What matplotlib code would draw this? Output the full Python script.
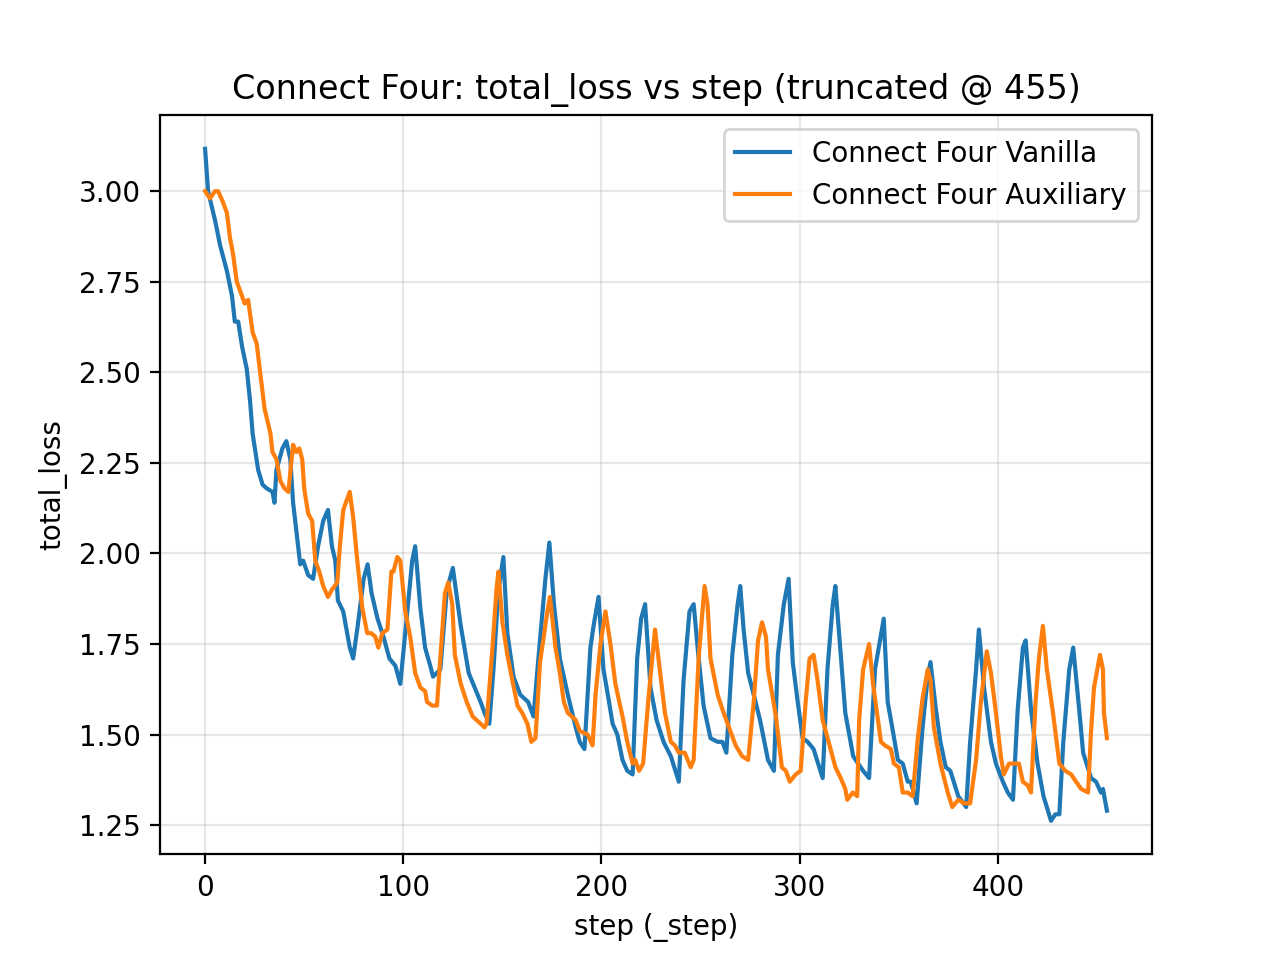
import matplotlib
matplotlib.use("Agg")
import matplotlib.pyplot as plt

# (step, total_loss) readings for each run
vanilla_points = [
    (0, 3.117), (1.5, 3.00), (5, 2.92), (7.6, 2.85), (11, 2.78), (13.6, 2.71), (15, 2.64), (16.7, 2.64),
    (18.7, 2.57), (21, 2.51), (22.7, 2.42), (24, 2.33), (26.8, 2.23), (29, 2.19), (31, 2.18), (34, 2.17),
    (35, 2.14), (36, 2.23), (39, 2.29), (41, 2.31), (43, 2.26), (44.4, 2.14), (48, 1.97), (49.5, 1.98),
    (52, 1.94), (54.5, 1.93), (57, 2.02), (59.6, 2.09), (62, 2.12), (64, 2.02), (65.7, 1.98), (67, 1.87),
    (69.7, 1.84), (73, 1.74), (74.7, 1.71), (77, 1.80), (80, 1.93), (82, 1.97), (84, 1.89), (87, 1.82),
    (90, 1.77), (93, 1.71), (96, 1.69), (98.5, 1.64), (102, 1.84), (104.5, 1.98), (106, 2.02), (108.6, 1.85),
    (111, 1.74), (113.6, 1.69), (115, 1.66), (118.7, 1.68), (122, 1.90), (125, 1.96), (129, 1.80), (133, 1.67),
    (136, 1.63), (139, 1.59), (141, 1.56), (143.4, 1.53), (145.5, 1.68), (148, 1.90), (150.5, 1.99),
    (152.5, 1.78), (155.6, 1.66), (159, 1.61), (163, 1.59), (165.7, 1.55), (168, 1.70), (171.7, 1.93),
    (173.7, 2.03), (176, 1.86), (179, 1.71), (183, 1.61), (187, 1.52), (189, 1.48), (191.4, 1.46),
    (194.4, 1.74), (196, 1.80), (198.5, 1.88), (201, 1.68), (203.5, 1.60), (205.6, 1.53), (208, 1.50),
    (210.6, 1.43), (213, 1.40), (215.7, 1.39), (218, 1.71), (220, 1.82), (222, 1.86), (224.7, 1.63),
    (227.8, 1.54), (231.3, 1.48), (235, 1.44), (239, 1.37), (241.4, 1.65), (244.4, 1.84), (246.5, 1.86),
    (248.5, 1.74), (251.5, 1.58), (255, 1.49), (258.6, 1.48), (261, 1.48), (263, 1.45), (266, 1.72),
    (268.7, 1.86), (270, 1.91), (271.7, 1.79), (274, 1.67), (276.8, 1.61), (280, 1.54), (284, 1.43),
    (287, 1.40), (289, 1.72), (292, 1.86), (294.4, 1.93), (296.5, 1.70), (299, 1.59), (301.5, 1.49),
    (304, 1.48), (307, 1.46), (311.6, 1.38), (314, 1.68), (316.7, 1.86), (318, 1.91), (320.7, 1.72),
    (323, 1.56), (327, 1.44), (332, 1.40), (335, 1.38), (338, 1.68), (342.4, 1.82), (344.4, 1.59),
    (347, 1.51), (349.5, 1.43), (352, 1.42), (354.5, 1.37), (356, 1.37), (359, 1.31), (362, 1.52),
    (364.6, 1.66), (366, 1.70), (368.7, 1.57), (371, 1.48), (373.7, 1.41), (376, 1.40), (380, 1.33),
    (384, 1.30), (386, 1.48), (389, 1.68), (390.4, 1.79), (393, 1.63), (396.5, 1.48), (399, 1.42),
    (402.5, 1.37), (405, 1.34), (407.6, 1.32), (410, 1.57), (412.6, 1.74), (414, 1.76), (416.7, 1.57),
    (420, 1.42), (423, 1.33), (426.8, 1.262), (429, 1.28), (431, 1.28), (433, 1.48), (436, 1.68),
    (438, 1.74), (441, 1.57), (443, 1.45), (447, 1.38), (449.5, 1.37), (452, 1.34), (453, 1.35), (455, 1.29),
]

auxiliary_points = [
    (0, 3.00), (2.5, 2.98), (5, 3.00), (6.6, 3.00), (9, 2.97), (11, 2.94), (12.6, 2.87), (14, 2.83),
    (16, 2.75), (18.7, 2.71), (20, 2.69), (21.7, 2.70), (22.7, 2.66), (24, 2.61), (26, 2.58), (27.8, 2.50),
    (30, 2.40), (33, 2.33), (34, 2.28), (36, 2.26), (38, 2.20), (40, 2.18), (42, 2.17), (44.4, 2.30),
    (46, 2.28), (47.5, 2.29), (49, 2.26), (50, 2.18), (52, 2.11), (54, 2.09), (55.6, 1.98), (57.6, 1.95),
    (59.6, 1.91), (62, 1.88), (64, 1.90), (66.7, 1.92), (68, 2.02), (69.7, 2.12), (71.7, 2.15), (73, 2.17),
    (74.7, 2.10), (76.8, 1.98), (79.3, 1.85), (81.8, 1.78), (83.8, 1.78), (85.9, 1.77), (87.4, 1.74),
    (89.4, 1.78), (92, 1.79), (94, 1.95), (95, 1.95), (97, 1.99), (98.5, 1.98), (101, 1.84), (103.5, 1.77),
    (106, 1.67), (108.6, 1.63), (111, 1.62), (112, 1.59), (114.6, 1.58), (117, 1.58), (119.7, 1.79),
    (121, 1.89), (122.7, 1.92), (124.7, 1.86), (126, 1.72), (129, 1.64), (132, 1.59), (135, 1.55),
    (139, 1.53), (141, 1.52), (142, 1.53), (145, 1.74), (147, 1.90), (148, 1.95), (150, 1.81), (152.5, 1.72),
    (155, 1.65), (157.6, 1.58), (160, 1.56), (162.6, 1.53), (164.6, 1.48), (166.7, 1.49), (169, 1.70),
    (172.7, 1.84), (174, 1.88), (176.8, 1.74), (179, 1.67), (181, 1.59), (183, 1.56), (187, 1.54),
    (189, 1.51), (193, 1.50), (195.5, 1.47), (197, 1.61), (199.5, 1.75), (202, 1.84), (204.5, 1.75),
    (207, 1.64), (210.6, 1.55), (213, 1.48), (215.7, 1.42), (217, 1.43), (219, 1.40), (221, 1.42),
    (223.7, 1.60), (227, 1.79), (229.8, 1.66), (232, 1.56), (235, 1.48), (237, 1.47), (239, 1.45),
    (242, 1.45), (245, 1.41), (246.5, 1.43), (249, 1.71), (252, 1.91), (253.5, 1.86), (255, 1.71),
    (258.6, 1.61), (261.6, 1.56), (265, 1.51), (267.7, 1.47), (271, 1.44), (274, 1.43), (276.8, 1.59),
    (279, 1.76), (281, 1.81), (283, 1.77), (284, 1.68), (288, 1.55), (291, 1.41), (293, 1.40), (295, 1.37),
    (298, 1.39), (300.5, 1.40), (303, 1.59), (305, 1.71), (307, 1.72), (309, 1.65), (311.6, 1.54),
    (314.6, 1.48), (318, 1.41), (320.7, 1.38), (323, 1.35), (324, 1.32), (326.8, 1.34), (329, 1.33),
    (330, 1.54), (332, 1.68), (335, 1.75), (337, 1.64), (341, 1.48), (343, 1.47), (346, 1.46), (347.5, 1.42),
    (350, 1.41), (352, 1.34), (354.5, 1.34), (357, 1.33), (359.6, 1.49), (362, 1.60), (364.6, 1.68),
    (366, 1.65), (367.7, 1.52), (371, 1.42), (374.7, 1.34), (377, 1.30), (380, 1.32), (383, 1.31),
    (386, 1.31), (389, 1.43), (391.4, 1.59), (394.4, 1.73), (396.5, 1.67), (399, 1.56), (401.5, 1.44),
    (403, 1.39), (405.6, 1.42), (408, 1.42), (410.6, 1.42), (412.6, 1.37), (415, 1.36), (416.7, 1.34),
    (419, 1.59), (420.7, 1.71), (422.7, 1.80), (424.7, 1.68), (427.8, 1.56), (431, 1.42), (434, 1.40),
    (437, 1.39), (439.4, 1.37), (442, 1.35), (445.5, 1.34), (447, 1.51), (448.5, 1.63), (450.5, 1.69),
    (451.5, 1.72), (453, 1.68), (453.5, 1.56), (455, 1.49),
]

vanilla_steps = [p[0] for p in vanilla_points]
vanilla_loss = [p[1] for p in vanilla_points]
aux_steps = [p[0] for p in auxiliary_points]
aux_loss = [p[1] for p in auxiliary_points]

y_ticks = [1.25, 1.50, 1.75, 2.00, 2.25, 2.50, 2.75, 3.00]

fig, ax = plt.subplots(figsize=(6.4, 4.8), dpi=200)
ax.plot(vanilla_steps, vanilla_loss, color="#1f77b4", label="Connect Four Vanilla")
ax.plot(aux_steps, aux_loss, color="#ff7f0e", label="Connect Four Auxiliary")
ax.set_title("Connect Four: total_loss vs step (truncated @ 455)")
ax.set_xlabel("step (_step)")
ax.set_ylabel("total_loss")
ax.set_yticks(y_ticks)
ax.grid(True, alpha=0.3)
ax.legend(loc="upper right")
fig.savefig("out.png", dpi=200)
